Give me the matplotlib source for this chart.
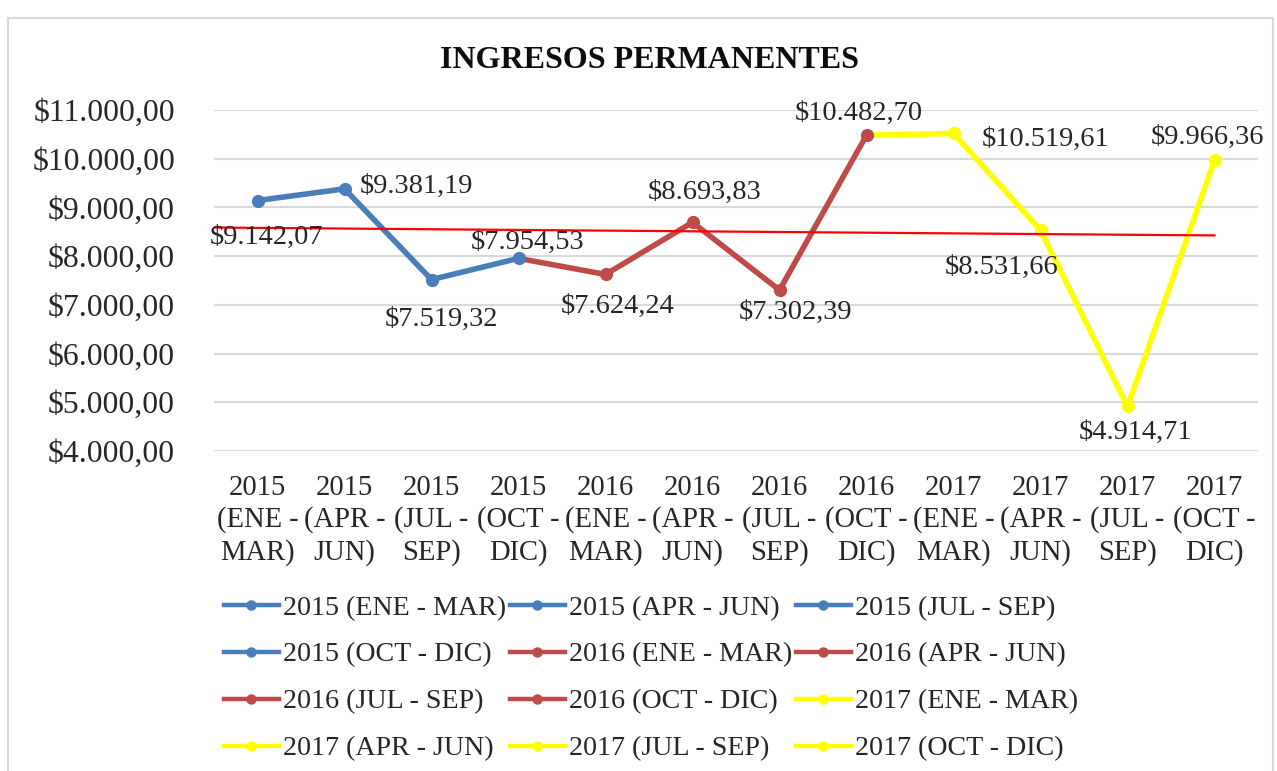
import matplotlib
matplotlib.use("Agg")
import matplotlib.pyplot as plt
from matplotlib.patches import Rectangle
import numpy as np

plt.rcParams['font.family'] = ['Liberation Serif', 'DejaVu Serif']

categories = ["2015 (ENE - MAR)", "2015 (APR - JUN)", "2015 (JUL - SEP)", "2015 (OCT - DIC)",
              "2016 (ENE - MAR)", "2016 (APR - JUN)", "2016 (JUL - SEP)", "2016 (OCT - DIC)",
              "2017 (ENE - MAR)", "2017 (APR - JUN)", "2017 (JUL - SEP)", "2017 (OCT - DIC)"]
tick_labels = ["2015\n(ENE -\nMAR)", "2015\n(APR -\nJUN)", "2015\n(JUL -\nSEP)", "2015\n(OCT -\nDIC)",
               "2016\n(ENE -\nMAR)", "2016\n(APR -\nJUN)", "2016\n(JUL -\nSEP)", "2016\n(OCT -\nDIC)",
               "2017\n(ENE -\nMAR)", "2017\n(APR -\nJUN)", "2017\n(JUL -\nSEP)", "2017\n(OCT -\nDIC)"]
values = [9142.07, 9381.19, 7519.32, 7954.53, 7624.24, 8693.83, 7302.39, 10482.70,
          10519.61, 8531.66, 4914.71, 9966.36]
data_labels = ["$9.142,07", "$9.381,19", "$7.519,32", "$7.954,53", "$7.624,24", "$8.693,83",
               "$7.302,39", "$10.482,70", "$10.519,61", "$8.531,66", "$4.914,71", "$9.966,36"]
y_ticks = [4000, 5000, 6000, 7000, 8000, 9000, 10000, 11000]
y_tick_labels = ["$4.000,00", "$5.000,00", "$6.000,00", "$7.000,00", "$8.000,00",
                 "$9.000,00", "$10.000,00", "$11.000,00"]

BLUE = "#4A7EBB"
RED = "#BE4B48"
YEL = "#FFFF00"
TXT = "#262626"
point_colors = [BLUE] * 4 + [RED] * 4 + [YEL] * 4

W, H = 1277, 771
fig = plt.figure(figsize=(W / 100, H / 100), dpi=100)
fig.patch.set_facecolor("white")

# chart border
fig.add_artist(Rectangle((8 / W, -0.05), 1265 / W, 1 - 18 / H + 0.05, transform=fig.transFigure,
                         fill=False, edgecolor="#D9D9D9", lw=1.5))

ax = fig.add_axes([214 / W, 1 - 451 / H, (1258 - 214) / W, (451 - 110) / H])
x = np.arange(len(values))
ax.set_xlim(-0.5, len(values) - 0.5)
ax.set_ylim(4000, 11000)
ax.set_yticks(y_ticks)
ax.set_yticklabels(y_tick_labels, fontsize=22.8, color=TXT)
ax.set_xticks(x)
ax.set_xticklabels(tick_labels, fontsize=20.6, color=TXT, linespacing=1.27)
ax.tick_params(axis="y", length=0, pad=28)
ax.tick_params(axis="x", length=0, pad=17)
for s in ax.spines.values():
    s.set_visible(False)
ax.grid(axis="y", color="#D9D9D9", lw=1.5)
ax.set_axisbelow(True)

LW = 4.0
# segments colored by the end point's color
for i in range(1, len(values)):
    ax.plot(x[i - 1:i + 1], values[i - 1:i + 1], color=point_colors[i], lw=LW,
            solid_capstyle="round", zorder=3)

handles = []
for i in range(len(values)):
    h, = ax.plot([x[i]], [values[i]], color=point_colors[i], lw=LW, marker="o", ms=8.5,
                 label=categories[i], zorder=4)
    handles.append(h)

# linear trend line
coef = np.polyfit(x, values, 1)
tx = np.array([-0.5, x[-1]])
ax.plot(tx, np.polyval(coef, tx), color="#FF0000", lw=1.6, zorder=5)

# data labels (offsets in pixels)
offsets = [(9, -37, "center"), (15, 2, "left"), (10, -40, "center"), (9, 16, "center"),
           (12, -32, "center"), (12, 30, "center"), (16, -22, "center"), (-8, 22, "center"),
           (92, -6, "center"), (-39, -37, "center"), (8, -26, "center"), (-7, 23, "center")]
for i, (dx, dy, ha) in enumerate(offsets):
    ax.annotate(data_labels[i], (x[i], values[i]), xytext=(dx, dy), textcoords="offset pixels",
                ha=ha, va="center", fontsize=20.5, color=TXT, zorder=6)

fig.text(649 / W, 1 - 60 / H, "INGRESOS PERMANENTES", ha="center", va="center",
         fontsize=23, fontweight="bold", color="#0D0D0D")

order = [0, 3, 6, 9, 1, 4, 7, 10, 2, 5, 8, 11]
leg = fig.legend([handles[k] for k in order], [categories[k] for k in order], ncol=3,
                 loc="upper left", bbox_to_anchor=(224 / W, 1 - 595 / H), frameon=False,
                 fontsize=20.2, handlelength=1.95, handletextpad=0.15, columnspacing=0.14,
                 labelspacing=0.76, borderaxespad=0, borderpad=0)
for t in leg.get_texts():
    t.set_color(TXT)
for lh in leg.legend_handles:
    lh.set_markersize(6.5)
    lh.set_linewidth(3.2)

fig.savefig("out.png", dpi=100, facecolor="white")
